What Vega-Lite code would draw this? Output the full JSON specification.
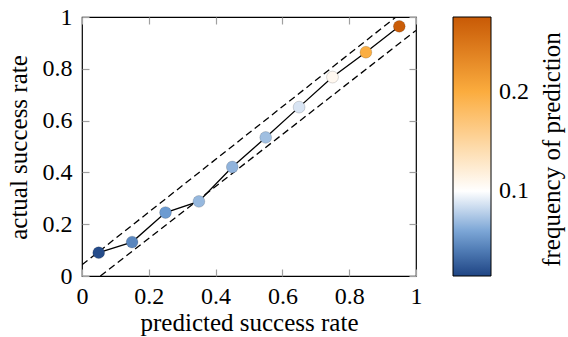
{
  "$schema": "https://vega.github.io/schema/vega-lite/v6.json",
  "width": 334,
  "height": 259,
  "autosize": {"type": "none"},
  "padding": {"left": 82, "top": 17, "right": 152, "bottom": 61},
  "background": "white",
  "config": {
    "view": {"stroke": "black", "strokeWidth": 1.2},
    "font": "Liberation Serif",
    "axis": {
      "domain": false, "grid": false,
      "tickColor": "#a0a0a0", "tickWidth": 1.2, "tickSize": -7,
      "labelFlush": false, "labelOverlap": false
    }
  },
  "datasets": {
    "bands": [
      {"band": "upper", "x": 0, "y": 0.043},
      {"band": "upper", "x": 0.94, "y": 1},
      {"band": "lower", "x": 0.055, "y": 0},
      {"band": "lower", "x": 1, "y": 0.948}
    ],
    "cal": [
      {"predicted": 0.05, "actual": 0.090, "freq": 0.018},
      {"predicted": 0.15, "actual": 0.131, "freq": 0.045},
      {"predicted": 0.25, "actual": 0.245, "freq": 0.055},
      {"predicted": 0.35, "actual": 0.288, "freq": 0.068},
      {"predicted": 0.45, "actual": 0.421, "freq": 0.066},
      {"predicted": 0.55, "actual": 0.535, "freq": 0.071},
      {"predicted": 0.65, "actual": 0.652, "freq": 0.088},
      {"predicted": 0.75, "actual": 0.768, "freq": 0.108},
      {"predicted": 0.85, "actual": 0.864, "freq": 0.198},
      {"predicted": 0.95, "actual": 0.964, "freq": 0.272}
    ]
  },
  "layer": [
    {
      "data": {"name": "bands"},
      "mark": {"type": "line", "color": "black", "strokeWidth": 1.3, "strokeDash": [7, 4], "clip": true},
      "encoding": {
        "x": {"field": "x", "type": "quantitative", "scale": {"domain": [0, 1], "nice": false, "zero": false},
          "axis": {"orient": "bottom", "values": [0, 0.2, 0.4, 0.6, 0.8, 1], "format": "~g", "labelPadding": 15,
            "labelFont": "Liberation Serif", "labelFontSize": 24, "labelColor": "black",
            "title": "predicted success rate", "titleFont": "Liberation Serif", "titleFontSize": 25, "titleFontWeight": "normal", "titleColor": "black",
            "titleX": 167, "titleY": 54, "titleBaseline": "alphabetic", "titleAlign": "center"}},
        "y": {"field": "y", "type": "quantitative", "scale": {"domain": [0, 1], "nice": false, "zero": false},
          "axis": {"orient": "left", "values": [0, 0.2, 0.4, 0.6, 0.8, 1], "format": "~g", "labelPadding": 17,
            "labelFont": "Liberation Serif", "labelFontSize": 24, "labelColor": "black",
            "title": "actual success rate", "titleFont": "Liberation Serif", "titleFontSize": 25, "titleFontWeight": "normal", "titleColor": "black",
            "titleX": -56, "titleY": 130, "titleAngle": -90, "titleBaseline": "alphabetic", "titleAlign": "center"}},
        "detail": {"field": "band"}
      }
    },
    {
      "data": {"name": "cal"},
      "mark": {"type": "line", "color": "black", "strokeWidth": 1.3},
      "encoding": {
        "x": {"field": "predicted", "type": "quantitative",
          "axis": {"orient": "top", "values": [0, 0.2, 0.4, 0.6, 0.8, 1], "labels": false, "title": null}},
        "y": {"field": "actual", "type": "quantitative",
          "axis": {"orient": "right", "values": [0, 0.2, 0.4, 0.6, 0.8, 1], "labels": false,
            "title": "frequency of prediction", "titleFont": "Liberation Serif", "titleFontSize": 25, "titleFontWeight": "normal", "titleColor": "black",
            "titleX": 143, "titleY": 132, "titleAngle": -90, "titleBaseline": "alphabetic", "titleAlign": "center"}}
      }
    },
    {
      "data": {"name": "cal"},
      "mark": {"type": "point", "filled": true, "size": 140, "opacity": 1, "stroke": "#000000", "strokeOpacity": 0.15, "strokeWidth": 1},
      "encoding": {
        "x": {"field": "predicted", "type": "quantitative", "axis": null},
        "y": {"field": "actual", "type": "quantitative", "axis": null},
        "color": {
          "field": "freq", "type": "quantitative",
          "scale": {
            "domain": [0.0147, 0.055, 0.1, 0.2, 0.275],
            "range": ["#1f4584", "#6c9bd1", "#ffffff", "#fbac3e", "#c85a06"],
            "interpolate": "rgb"
          },
          "legend": {
            "orient": "none", "legendX": 371, "legendY": 0, "padding": 0,
            "direction": "vertical", "gradientLength": 259, "gradientThickness": 38,
            "gradientStrokeColor": "black", "gradientStrokeWidth": 1,
            "values": [0.1, 0.2], "format": "~g",
            "labelFont": "Liberation Serif", "labelFontSize": 24, "labelColor": "black", "labelOffset": 8,
            "title": null
          }
        }
      }
    }
  ],
  "resolve": {"axis": {"x": "independent", "y": "independent"}}
}
